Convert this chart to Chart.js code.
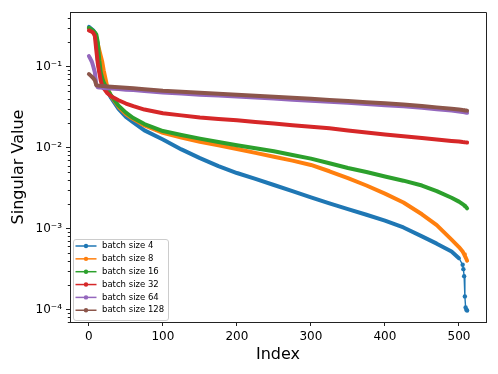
<!DOCTYPE html>
<html>
<head>
<meta charset="utf-8">
<script src="https://cdn.jsdelivr.net/npm/chart.js@4.4.0/dist/chart.umd.min.js"></script>
<style>
  html, body { margin: 0; padding: 0; background: #fff; }
  canvas { display: block; }
</style>
</head>
<body>
<canvas id="chart" width="498" height="374"></canvas>
<script>
const indices = [0, 2, 4, 6, 8, 10, 12, 14, 16, 18, 20, 25, 30, 40, 50, 60, 75, 100, 125, 150, 175, 200, 225, 250, 275, 300, 325, 350, 375, 400, 425, 450, 470, 490, 500, 505, 506, 507, 508, 509, 510, 511]

const batch4 = [0.31, 0.30, 0.29, 0.28, 0.26, 0.20, 0.12, 0.09, 0.077, 0.068, 0.062, 0.05, 0.041, 0.03, 0.024, 0.0205, 0.0163, 0.0126, 0.0095, 0.0074, 0.0059, 0.00485, 0.0041, 0.00345, 0.0029, 0.00243, 0.00205, 0.00174, 0.00148, 0.00125, 0.00103, 0.00080, 0.00065, 0.00052, 0.00043, 0.000357, 0.000315, 0.000258, 0.000145, 0.000106, 0.0000995, 0.000097]
const batch8 = [0.30, 0.29, 0.28, 0.27, 0.26, 0.23, 0.19, 0.16, 0.135, 0.115, 0.09, 0.055, 0.043, 0.032, 0.026, 0.0225, 0.0188, 0.0152, 0.0133, 0.0118, 0.0107, 0.0096, 0.0086, 0.0077, 0.0069, 0.0061, 0.0051, 0.0042, 0.0034, 0.0027, 0.0021, 0.0015, 0.0011, 0.00073, 0.00059, 0.00052, 0.0005, 0.00048, 0.00046, 0.00044, 0.00042, 0.0004]
const batch16 = [0.30, 0.295, 0.285, 0.275, 0.265, 0.25, 0.2, 0.12, 0.085, 0.072, 0.064, 0.052, 0.044, 0.033, 0.027, 0.0232, 0.0195, 0.0160, 0.0143, 0.0129, 0.0117, 0.0107, 0.0098, 0.0090, 0.0081, 0.0073, 0.0064, 0.0056, 0.0050, 0.0044, 0.0039, 0.0034, 0.0029, 0.0024, 0.00215, 0.0020, 0.00197, 0.00193, 0.00189, 0.00186, 0.00182, 0.00178]
const batch32 = [0.28, 0.275, 0.27, 0.26, 0.24, 0.16, 0.11, 0.085, 0.067, 0.058, 0.054, 0.047, 0.043, 0.0385, 0.035, 0.0325, 0.0295, 0.0265, 0.0250, 0.0235, 0.0226, 0.0217, 0.0207, 0.0198, 0.0189, 0.0181, 0.0173, 0.0163, 0.0154, 0.0145, 0.0138, 0.0131, 0.0126, 0.0121, 0.0119, 0.0117, 0.01168, 0.01165, 0.01162, 0.0116, 0.01157, 0.01155]
const batch64 = [0.135, 0.125, 0.115, 0.10, 0.085, 0.06, 0.0556, 0.0553, 0.0551, 0.0548, 0.0546, 0.0542, 0.0537, 0.0528, 0.052, 0.0513, 0.05, 0.048, 0.0466, 0.0451, 0.0439, 0.0428, 0.0415, 0.0404, 0.0391, 0.038, 0.0369, 0.0357, 0.0346, 0.0334, 0.0323, 0.031, 0.0298, 0.0287, 0.028, 0.0276, 0.0275, 0.0274, 0.0273, 0.0271, 0.027, 0.0269]
const batch128 = [0.081, 0.078, 0.075, 0.072, 0.068, 0.059, 0.0585, 0.0582, 0.058, 0.0577, 0.0575, 0.057, 0.0565, 0.0556, 0.0547, 0.054, 0.0527, 0.0505, 0.049, 0.0475, 0.0462, 0.045, 0.0437, 0.0425, 0.0412, 0.0400, 0.0388, 0.0376, 0.0364, 0.0352, 0.034, 0.0326, 0.0314, 0.0302, 0.0295, 0.0291, 0.029, 0.0289, 0.0288, 0.0287, 0.0287, 0.0286]

const seriesLabels = ['batch size 4', 'batch size 8', 'batch size 16', 'batch size 32', 'batch size 64', 'batch size 128']
const seriesValues = [batch4, batch8, batch16, batch32, batch64, batch128]
const seriesColors = ['#1f77b4', '#ff7f0e', '#2ca02c', '#d62728', '#9467bd', '#8c564b']

const xTicks = [0, 100, 200, 300, 400, 500]
const yTicks = [1e-4, 1e-3, 1e-2, 1e-1]
const yTickLabels = ['10⁻⁴', '10⁻³', '10⁻²', '10⁻¹']

Chart.defaults.font.family = "'DejaVu Sans', sans-serif"
Chart.defaults.color = '#000'

// blue tail is sparse: thin line + visible dots from there on
const tailStart = indices.indexOf(505)

const datasets = seriesValues.map((vals, i) => ({
  label: seriesLabels[i],
  data: indices.map((x, j) => ({ x: x, y: vals[j] })),
  borderColor: seriesColors[i],
  backgroundColor: seriesColors[i],
  borderWidth: 4,
  borderCapStyle: 'round',
  borderJoinStyle: 'round',
  pointRadius: ctx => (i === 0 && ctx.dataIndex >= tailStart ? 2.2 : 0),
  pointBorderWidth: 0,
  tension: 0,
  order: seriesValues.length - i,
  segment: {
    borderWidth: ctx => (i === 0 && ctx.p0DataIndex >= tailStart - 1 ? 1.4 : undefined)
  }
}))

const extras = {
  id: 'extras',
  afterDraw(chart) {
    const ctx = chart.ctx
    const area = chart.chartArea
    const yScale = chart.scales.y
    ctx.save()

    // top and right spines
    ctx.strokeStyle = '#222'
    ctx.lineWidth = 1
    ctx.beginPath()
    ctx.moveTo(area.left, area.top + 0.5)
    ctx.lineTo(area.right + 0.5, area.top + 0.5)
    ctx.lineTo(area.right + 0.5, area.bottom)
    ctx.stroke()

    // minor log ticks
    ctx.beginPath()
    for (let k = -5; k <= 0; k++) {
      for (let m = 2; m <= 9; m++) {
        const v = m * Math.pow(10, k)
        if (v < yScale.min || v > yScale.max) continue
        const py = Math.round(yScale.getPixelForValue(v)) + 0.5
        ctx.moveTo(area.left - 2.2, py)
        ctx.lineTo(area.left, py)
      }
    }
    ctx.stroke()

    // legend box, lower left
    const lx = area.left + 3, ly = area.bottom - 83, lw = 95, lh = 81
    ctx.beginPath()
    ctx.roundRect(lx + 0.5, ly + 0.5, lw, lh, 2.5)
    ctx.fillStyle = 'rgba(255,255,255,0.8)'
    ctx.fill()
    ctx.strokeStyle = '#cccccc'
    ctx.stroke()

    ctx.font = "8.5px 'DejaVu Sans'"
    ctx.textBaseline = 'middle'
    chart.data.datasets.forEach((ds, i) => {
      const y = ly + 7 + i * 12.85
      ctx.strokeStyle = ds.borderColor
      ctx.lineWidth = 1.5
      ctx.beginPath()
      ctx.moveTo(lx + 2.5, y)
      ctx.lineTo(lx + 23.5, y)
      ctx.stroke()
      ctx.fillStyle = ds.borderColor
      ctx.beginPath()
      ctx.arc(lx + 13, y, 2.2, 0, Math.PI * 2)
      ctx.fill()
      ctx.fillStyle = '#000'
      ctx.fillText(ds.label, lx + 29, y)
    })
    ctx.restore()
  }
}

new Chart(document.getElementById('chart'), {
  type: 'line',
  data: { datasets: datasets },
  plugins: [extras],
  options: {
    responsive: false,
    animation: false,
    devicePixelRatio: 1,
    layout: { padding: { left: 9, right: 12, top: 12, bottom: 10 } },
    plugins: { legend: { display: false }, tooltip: { enabled: false } },
    scales: {
      x: {
        type: 'linear',
        min: -25.55,
        max: 536.55,
        afterBuildTicks: s => { s.ticks = xTicks.map(v => ({ value: v })) },
        afterFit: s => { s.height = 42 },
        grid: { drawOnChartArea: false, tickLength: 4, color: '#222' },
        border: { color: '#222', width: 1 },
        ticks: { font: { size: 12 }, padding: 4, maxRotation: 0, autoSkip: false },
        title: { display: true, text: 'Index', font: { size: 16 }, padding: 0 }
      },
      y: {
        type: 'logarithmic',
        min: 7.05e-5,
        max: 0.4734,
        afterBuildTicks: s => { s.ticks = yTicks.map(v => ({ value: v })) },
        afterFit: s => { s.width = 61 },
        grid: { drawOnChartArea: false, tickLength: 4, color: '#222' },
        border: { color: '#222', width: 1 },
        ticks: {
          font: { size: 12 },
          padding: 4,
          autoSkip: false,
          callback: (v, i) => yTickLabels[i]
        },
        title: { display: true, text: 'Singular Value', font: { size: 16 }, padding: 0 }
      }
    }
  }
})
</script>
</body>
</html>
